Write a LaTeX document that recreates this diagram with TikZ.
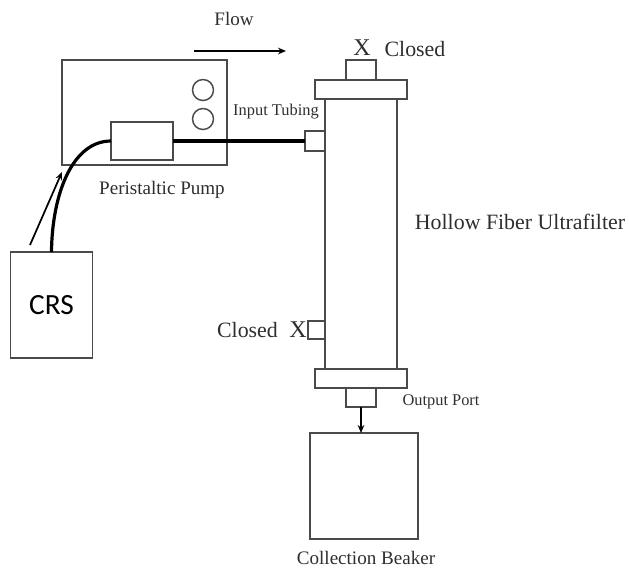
\documentclass[tikz,border=0pt]{standalone}
\usepackage{fontspec}
\setmainfont{Liberation Serif}
\newfontfamily\crsfont{Carlito}
\usetikzlibrary{arrows.meta,positioning}
\definecolor{linegray}{HTML}{4A4A4A}
\definecolor{textgray}{HTML}{2E2E2E}
\tikzset{
  >={Stealth[length=6pt, width=5pt]},
  box/.style    ={draw=linegray, line width=1.1pt, fill=white, outer sep=0pt, inner sep=0pt},
  knob/.style   ={box, circle, minimum size=15.75pt},
  lbl/.style    ={font=\fontsize{14.3}{16}\selectfont, text=textgray, inner sep=0pt},
  biglbl/.style ={font=\fontsize{16.4}{18}\selectfont, text=textgray, inner sep=0pt},
  smalllbl/.style={font=\fontsize{12.3}{14}\selectfont, text=textgray, inner sep=0pt},
  xmark/.style  ={font=\fontsize{18}{20}\selectfont, text=textgray, inner sep=0pt},
  tube/.style   ={line width=2.4pt, black},
  arr/.style    ={->, line width=1.3pt, black},
}
\begin{document}
\begin{tikzpicture}[x=.75pt, y=-.75pt]
  \useasboundingbox (0,0) rectangle (629,572);
  \node[box, minimum width=123.75pt, minimum height=78.75pt] (pump) at (144.5,112.5) {};
  \node[knob] (knoba) at (203,90) {};
  \node[knob] (knobb) at (203,119) {};
  \node[box, minimum width=46.5pt, minimum height=28.5pt] (head) at (142,141) {};
  \node[box, minimum width=61.5pt, minimum height=79.5pt] (crs) at (51.5,305) {\crsfont\fontsize{22}{24}\selectfont CRS};

  \node[box, minimum width=54pt, minimum height=202.5pt] (column) at (361,234) {};
  \node[box, minimum width=69pt, minimum height=14.25pt, above=0pt of column] (topflange) {};
  \node[box, minimum width=22.5pt, minimum height=15pt, above=0pt of topflange] (topcap) {};
  \node[box, minimum width=69pt, minimum height=14.25pt, below=0pt of column] (botflange) {};
  \node[box, minimum width=22.5pt, minimum height=14.25pt, below=0pt of botflange] (botcap) {};
  \node[box, minimum width=15pt, minimum height=15pt, left=0pt of column.west, yshift=69.75pt] (inport) {};
  \node[box, minimum width=12.75pt, minimum height=13.5pt, left=0pt of column.west, yshift=-72pt] (sideport) {};
  \node[box, minimum width=81pt, minimum height=79.5pt] (beaker) at (364,486) {};

  \coordinate (flowa) at (194,51);
  \coordinate (flowb) at (286,51);
  \coordinate (crsa) at (30,245);
  \coordinate (crsb) at (62,172);

  \node[lbl] (flowlbl) at (234,19) {Flow};
  \node[xmark] (topx) at (362,48) {X};
  \node[biglbl] (topclosed) at (415,49) {Closed};
  \node[smalllbl] (inlbl) at (276,112) {Input Tubing};
  \node[lbl] (pumplbl) at (162,190) {Peristaltic Pump};
  \node[biglbl] (fiberlbl) at (520,222) {Hollow Fiber Ultrafilter};
  \node[biglbl] (sideclosed) at (247.5,330) {Closed};
  \node[xmark] (sidex) at (298,330) {X};
  \node[smalllbl] (outlbl) at (441,402) {Output Port};
  \node[lbl] (beakerlbl) at (366,558) {Collection Beaker};

  \draw[tube] (crs.north) .. controls (52,195) and (72,141) .. (head.west);
  \draw[tube] (head.east) -- (inport.west);
  \draw[arr] (flowa) -- (flowb);
  \draw[arr] (crsa) -- (crsb);
  \draw[arr] (botcap.south) -- (botcap.south |- beaker.north);
\end{tikzpicture}
\end{document}
